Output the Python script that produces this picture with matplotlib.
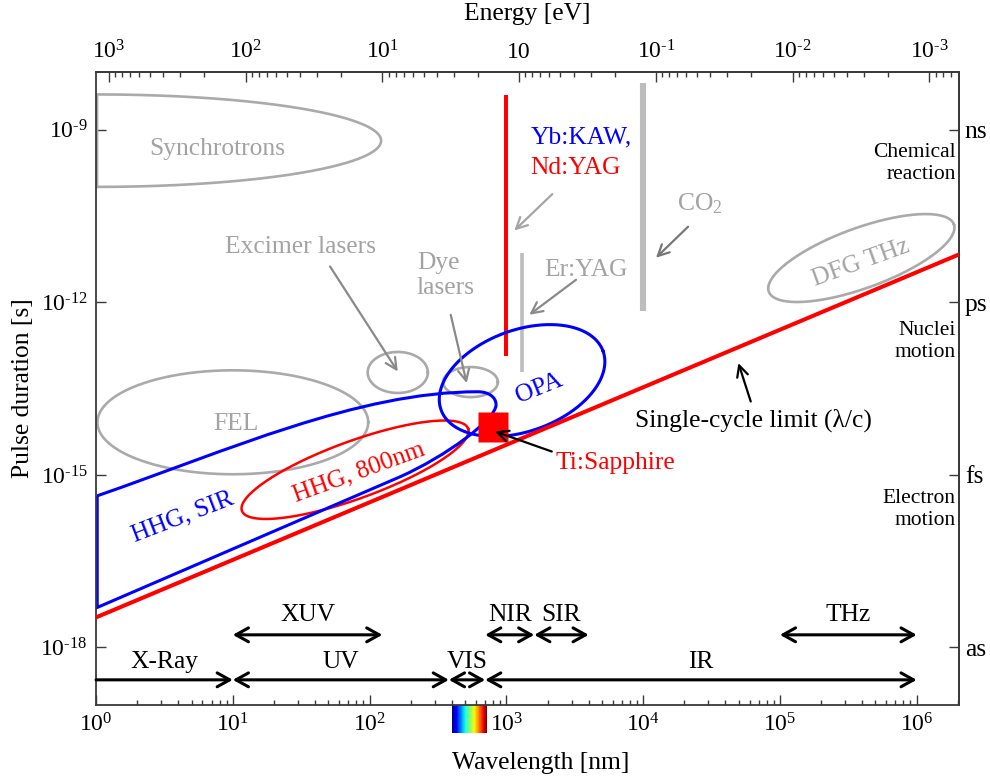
import numpy as np
import matplotlib
matplotlib.use('Agg')
import matplotlib.pyplot as plt
from matplotlib.path import Path
from matplotlib.patches import PathPatch
from matplotlib.ticker import LogLocator, NullLocator
from matplotlib.transforms import blended_transform_factory

plt.rcParams['font.family'] = ['Liberation Serif', 'DejaVu Serif']
plt.rcParams['mathtext.fontset'] = 'custom'
plt.rcParams['mathtext.rm'] = 'Liberation Serif'
plt.rcParams['mathtext.it'] = 'Liberation Serif:italic'
plt.rcParams['mathtext.bf'] = 'Liberation Serif:bold'

RED = '#ff0000'
BLUE = '#0000ff'
GRAY = '#aaaaaa'
GRAY_TXT = '#a3a3a3'
GRAY_BAR = '#bdbdbd'
FRAME = '#3a3a3a'

C_NM = 2.998e17      # speed of light [nm/s]
HC = 1239.84         # photon energy * wavelength [eV nm]

# axis ranges
wl_lim = (1.0, 2.05e6)
t_lim = (1e-19, 1.02e-8)

# tick values / labels (short hyphen in the exponents)
HY = '\u2010'
wl_ticks = [1e0, 1e1, 1e2, 1e3, 1e4, 1e5, 1e6]
wl_labels = [r'$\mathdefault{10^{%d}}$' % k for k in range(7)]
t_ticks = [1e-18, 1e-15, 1e-12, 1e-9]
t_labels = [r'$\mathdefault{10^{%s18}}$' % HY, r'$\mathdefault{10^{%s15}}$' % HY,
            r'$\mathdefault{10^{%s12}}$' % HY, r'$\mathdefault{10^{%s9}}$' % HY]
t_units = ['as', 'fs', 'ps', 'ns']
e_ticks = [1e3, 1e2, 1e1, 1e0, 1e-1, 1e-2, 1e-3]
e_labels = [r'$\mathdefault{10^{3}}$', r'$\mathdefault{10^{2}}$', r'$\mathdefault{10^{1}}$', '10',
            r'$\mathdefault{10^{%s1}}$' % HY, r'$\mathdefault{10^{%s2}}$' % HY,
            r'$\mathdefault{10^{%s3}}$' % HY]

# timescale notes on the right (centre of each two-line note)
scale_notes = ['Chemical\nreaction', 'Nuclei\nmotion', 'Electron\nmotion']
scale_t = [2.6e-10, 2.1e-13, 2.5e-16]

# fixed-wavelength lasers: wavelength, shortest and longest pulse
bar_wl = [1000, 1300, 1.0e4]
bar_tmin = [1.15e-13, 6.2e-14, 7.2e-13]
bar_tmax = [4.1e-9, 7.2e-12, 6.4e-9]
bar_col = [RED, GRAY_BAR, GRAY_BAR]
bar_lw = [2.9, 2.6, 4.4]

# source regions drawn as ellipses (centre, semi-axes in wavelength decades, tilt)
ell_wl = [160.7, 547, 10.0, 3.94e5, 78.3, 1303]
ell_t = [6.04e-14, 4.11e-14, 8.22e-15, 5.89e-12, 1.23e-15, 4.37e-14]
ell_a = [0.22, 0.20, 0.99, 0.72, 0.88, 0.63]
ell_b = [0.15, 0.11, 0.38, 0.22, 0.21, 0.37]
ell_ang = [0, 0, 0, 20, 20, 20]
ell_col = [GRAY, GRAY, GRAY, GRAY, RED, BLUE]
ell_lw = [1.9, 1.9, 1.9, 1.9, 1.8, 2.2]

# synchrotron half-ellipse
sync_wl, sync_t, sync_a, sync_b = 1.017, 6.46e-10, 2.077, 0.338

# HHG with short-wave IR drivers (outline control points)
sir_wl = [1.02, 9.07, 82.3, 621, 735, 841, 841, 841, 356, 167, 1.02, 1.02]
sir_t = [4.33e-16, 2.62e-15, 2.79e-14, 2.79e-14, 2.79e-14, 2.28e-14, 1.66e-14,
         9.08e-15, 2.07e-15, 9.27e-16, 4.96e-18, 4.33e-16]

# Ti:Sapphire
tisa_wl, tisa_t = 800, 6.9e-15

# spectral bands along the bottom: name, start, end, row, arrow style
band_name = ['X-Ray', 'UV', 'VIS', 'IR', 'XUV', 'NIR', 'SIR', 'THz']
band_lo = [1, 10, 380, 700, 10, 700, 1600, 1e5]
band_hi = [10, 380, 700, 1e6, 124, 1600, 4000, 1e6]
band_row = [0, 0, 0, 0, 1, 1, 1, 1]
band_style = ['->', '<->', '<->', '<->', '<->', '<->', '<->', '<->']
row_arrow_t = [2.74e-19, 1.66e-18]
row_label_t = [4.37e-19, 2.91e-18]

# visible spectrum strip under the axis
vis_lo, vis_hi = 400, 720

# labels: text, wavelength, duration, colour, rotation, alignment
labels = [
    ('Synchrotrons', 7.73, 4.7e-10, GRAY_TXT, 0, 'center'),
    ('Excimer lasers', 31.5, 9.0e-12, GRAY_TXT, 0, 'center'),
    ('Dye\nlasers', 222, 2.9e-12, GRAY_TXT, 0, 'left'),
    ('FEL', 10.5, 7.7e-15, GRAY_TXT, 0, 'center'),
    ('Er:YAG', 3794, 3.7e-12, GRAY_TXT, 0, 'center'),
    (r'CO$_2$', 26070, 5.2e-11, GRAY_TXT, 0, 'center'),
    ('DFG THz', 3.92e5, 4.87e-12, GRAY_TXT, 20, 'center'),
    ('Yb:KAW,', 1508, 7.4e-10, BLUE, 0, 'left'),
    ('Nd:YAG', 1508, 2.2e-10, RED, 0, 'left'),
    ('HHG, SIR', 4.33, 1.87e-16, BLUE, 21, 'center'),
    ('HHG, 800nm', 83.8, 1.11e-15, RED, 20, 'center'),
    ('OPA', 1734, 3.14e-14, BLUE, 22, 'center'),
    ('Ti:Sapphire', 6234, 1.62e-15, RED, 0, 'center'),
    ('Single-cycle limit (λ/c)', 64400, 8.8e-15, 'black', 0, 'center'),
]

# pointer arrows: tail (wl, t), head (wl, t), colour
pointers = [
    (51.4, 4.2e-12, 160.7, 6.28e-14, '#8a8a8a'),
    (392, 6.08e-13, 513, 3.94e-14, '#8a8a8a'),
    (2168, 7.62e-11, 1143, 1.77e-11, '#a5a5a5'),
    (3234, 2.47e-12, 1472, 6.08e-13, '#8a8a8a'),
    (21300, 2.06e-11, 12420, 5.96e-12, '#777777'),
    (61200, 1.89e-14, 49700, 8.79e-14, 'black'),
    (2148, 2.55e-15, 826, 5.69e-15, 'black'),
]

fig = plt.figure(figsize=(9.9, 7.78), dpi=100)
ax = fig.add_axes([0.0970, 0.0938, 0.8720, 0.8140])
ax.set_xscale('log')
ax.set_yscale('log')
ax.set_xlim(*wl_lim)
ax.set_ylim(*t_lim)

# screen ratio between one wavelength decade and one duration decade
W_in, H_in = fig.get_size_inches()
pos = ax.get_position()
px_x = pos.width * W_in / np.log10(wl_lim[1] / wl_lim[0])
px_y = pos.height * H_in / np.log10(t_lim[1] / t_lim[0])
ASPECT = px_x / px_y


def ellipse(wl_c, t_c, a, b, ang, th0=0.0, th1=2 * np.pi):
    th = np.linspace(th0, th1, 400)
    u, v = a * np.cos(th), b * np.sin(th)
    c, s = np.cos(np.radians(ang)), np.sin(np.radians(ang))
    dx = u * c - v * s
    dy = (u * s + v * c) * ASPECT
    return 10 ** (np.log10(wl_c) + dx), 10 ** (np.log10(t_c) + dy)


# single-cycle limit
wl_line = np.array(wl_lim)
ax.plot(wl_line, wl_line / C_NM, color=RED, lw=2.9, zorder=3, solid_capstyle='butt')

# fixed-wavelength lasers
for w, t0, t1, c, lw in zip(bar_wl, bar_tmin, bar_tmax, bar_col, bar_lw):
    ax.plot([w, w], [t0, t1], color=c, lw=lw, solid_capstyle='butt', zorder=2)

# synchrotrons
xs, ys = ellipse(sync_wl, sync_t, sync_a, sync_b, 0, -np.pi / 2, np.pi / 2)
ax.plot(np.append(xs, xs[0]), np.append(ys, ys[0]), color=GRAY, lw=1.9, zorder=2)

for w, t, a, b, ang, c, lw in zip(ell_wl, ell_t, ell_a, ell_b, ell_ang, ell_col, ell_lw):
    xs, ys = ellipse(w, t, a, b, ang)
    ax.plot(xs, ys, color=c, lw=lw, zorder=2)

# HHG, SIR outline
codes = [Path.MOVETO] + [Path.CURVE4] * 9 + [Path.LINETO, Path.LINETO]
sir_path = Path(np.column_stack([sir_wl, sir_t]), codes)
ax.add_patch(PathPatch(sir_path, facecolor='none', edgecolor=BLUE, lw=2.2, zorder=2))

# Ti:Sapphire
ax.plot([tisa_wl], [tisa_t], 's', color=RED, ms=21, mec='none', zorder=2.5)

# spectral bands
for name, lo, hi, row, sty in zip(band_name, band_lo, band_hi, band_row, band_style):
    ty = row_arrow_t[row]
    ax.annotate('', xy=(hi, ty), xytext=(lo, ty),
                arrowprops=dict(arrowstyle=sty + ',head_length=0.45,head_width=0.25',
                                color='black', lw=2.2, shrinkA=0, shrinkB=0,
                                mutation_scale=20))
    ax.text(np.sqrt(lo * hi), row_label_t[row], name, ha='center', va='baseline',
            fontsize=18.4)

# labels and pointers
for txt, w, t, c, rot, ha in labels:
    ax.text(w, t, txt, color=c, rotation=rot, ha=ha, va='center', fontsize=18.4,
            rotation_mode='anchor', zorder=4)

for w0, t0, w1, t1, c in pointers:
    ax.annotate('', xy=(w1, t1), xytext=(w0, t0),
                arrowprops=dict(arrowstyle='->,head_length=0.4,head_width=0.2',
                                color=c, lw=1.6, shrinkA=0, shrinkB=0,
                                mutation_scale=20), zorder=4)

# visible spectrum strip
strip = blended_transform_factory(ax.transData, ax.transAxes)
edges = np.geomspace(vis_lo, vis_hi, 81)
ax.pcolormesh(edges, [-0.044, 0.0], np.arange(80)[None, :], cmap='jet',
              transform=strip, clip_on=False, zorder=1)

# right-hand timescale notes
note_tr = blended_transform_factory(ax.transAxes, ax.transData)
for txt, t in zip(scale_notes, scale_t):
    ax.text(0.996, t, txt, transform=note_tr, ha='right', va='center',
            fontsize=15.5, linespacing=1.2)

# axes styling
for sp in ax.spines.values():
    sp.set_color(FRAME)
    sp.set_linewidth(1.3)

ax.set_xticks(wl_ticks, labels=wl_labels)
ax.xaxis.set_minor_locator(LogLocator(base=10, subs=np.arange(2, 10), numticks=100))
ax.set_yticks(t_ticks, labels=t_labels)
ax.yaxis.set_minor_locator(NullLocator())
ax.tick_params(which='both', direction='in', color=FRAME, width=1.0, labelsize=17, pad=6)
ax.tick_params(which='major', length=7)
ax.tick_params(which='minor', length=3.5)

ax.set_xlabel('Wavelength [nm]', fontsize=18.4)
ax.xaxis.set_label_coords(0.515, -0.074)
ax.set_ylabel('Pulse duration [s]', fontsize=18.4)
ax.yaxis.set_label_coords(-0.072, 0.5)

top = ax.secondary_xaxis('top', functions=(lambda x: HC / x, lambda x: HC / x))
top.set_xticks(e_ticks, labels=e_labels)
top.xaxis.set_minor_locator(LogLocator(base=10, subs=np.arange(2, 10), numticks=100))
top.tick_params(which='both', direction='in', color=FRAME, width=1.0, labelsize=17, pad=6)
top.tick_params(which='major', length=7)
top.tick_params(which='minor', length=3.5)
top.spines['top'].set_color(FRAME)
top.spines['top'].set_linewidth(1.3)
fig.text(527 / 990, 1 - 14 / 778, 'Energy [eV]', ha='center', va='center', fontsize=18.4)

right = ax.secondary_yaxis('right')
right.set_yticks(t_ticks, labels=t_units)
right.yaxis.set_minor_locator(NullLocator())
right.tick_params(which='both', direction='in', color=FRAME, width=1.0, length=7,
                  labelsize=18.4, pad=4)
right.spines['right'].set_color(FRAME)
right.spines['right'].set_linewidth(1.3)

fig.savefig('out.png', dpi=100)
